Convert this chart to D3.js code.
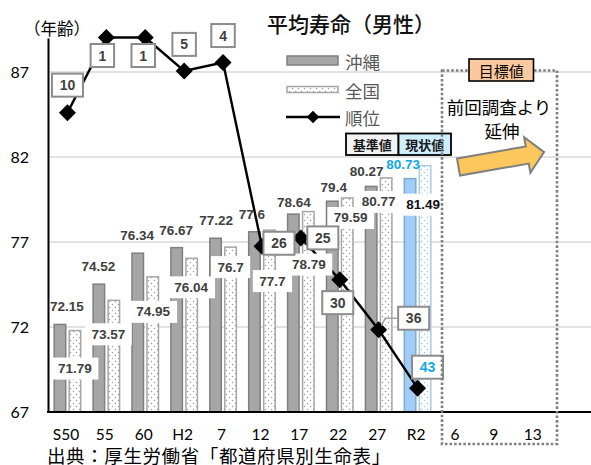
<!DOCTYPE html>
<html>
<head>
<meta charset="utf-8">
<script src="https://cdn.jsdelivr.net/npm/d3@7"></script>
<style>
  body { margin: 0; background: #fff; }
  svg { display: block; }
</style>
</head>
<body>
<svg id="chart" width="591" height="465"></svg>
<script>
// ---- data ----
const categories = ["S50", "55", "60", "H2", "7", "12", "17", "22", "27", "R2", "6", "9", "13"];
const okinawa  = [72.15, 74.52, 76.34, 76.67, 77.22, 77.6, 78.64, 79.4, 80.27, 80.73];
const national = [71.79, 73.57, 74.95, 76.04, 76.7, 77.7, 78.79, 79.59, 80.77, 81.49];
const rank     = [10, 1, 1, 5, 4, 26, 25, 30, 36, 43];
const yTicks   = [67, 72, 77, 82, 87];

// ---- label placement (dx from category centre, dy from bar top / marker) ----
const okLabelOffset   = [[-0.5,-17.5],[-8,-18],[-8,-18],[-8,-17.6],[-7,-18],[-10,-17],[-7,-12],[-6,-14],[-12,-15],[-14.5,-13.6]];
const natLabelOffset  = [[7.5,38],[2,34],[8,35],[7,29],[7.5,20],[10.5,51],[8,53],[11,20],[0,24],[5.5,39]];
const rankLabelOffset = [[0,-27.5],[-4,18],[-2,18],[0,-26.5],[0,-27],[17,-3],[22,0],[-2,23],[35,-11.5],[10,-21]];

const W = 591, H = 465;
const svg = d3.select("#chart");
const CJK = "'Noto Sans CJK JP', 'Noto Sans', sans-serif";
const NUM = "'Liberation Sans', Arial, sans-serif";
const TICK = "Lato, 'Liberation Sans', sans-serif";

const x = d3.scaleBand().domain(categories).range([48, 48 + 13 * 38.9]);
const y = d3.scaleLinear().domain([67, 89]).range([412, 38]);
const yRank = d3.scaleLinear().domain([0, 46]).range([29.15, 413.25]);
const cx = i => x(categories[i]) + x.bandwidth() / 2;
const baseY = y(67);

// ---- patterns ----
const defs = svg.append("defs");
function dotPattern(id, color) {
  const p = defs.append("pattern").attr("id", id).attr("patternUnits", "userSpaceOnUse")
    .attr("width", 6).attr("height", 6);
  p.append("rect").attr("width", 6).attr("height", 6).attr("fill", "#fff");
  p.append("circle").attr("cx", 1.5).attr("cy", 1.5).attr("r", 0.75).attr("fill", color);
  p.append("circle").attr("cx", 4.5).attr("cy", 4.5).attr("r", 0.75).attr("fill", color);
}
dotPattern("dotsGray", "#9a9a9a");
dotPattern("dotsBlue", "#8fc3f0");

// ---- gridlines ----
svg.append("g").selectAll("line").data(yTicks.filter(t => t !== 67)).join("line")
  .attr("x1", 48).attr("x2", W).attr("y1", d => y(d)).attr("y2", d => y(d))
  .attr("stroke", "#d9d9d9").attr("stroke-width", 1.5);

// ---- bars ----
const last = okinawa.length - 1;
svg.append("g").selectAll("rect").data(okinawa).join("rect")
  .attr("x", (d, i) => cx(i) - 13.25).attr("width", 11.5)
  .attr("y", d => y(d)).attr("height", d => baseY - y(d))
  .attr("fill", (d, i) => i === last ? "#9fcdf8" : "#a6a6a6")
  .attr("stroke", (d, i) => i === last ? "#86a8c8" : "#7f7f7f")
  .attr("stroke-width", 1.5);

svg.append("g").selectAll("rect").data(national).join("rect")
  .attr("x", (d, i) => cx(i) + 1.75).attr("width", 11.5)
  .attr("y", d => y(d)).attr("height", d => baseY - y(d))
  .attr("fill", (d, i) => i === last ? "url(#dotsBlue)" : "url(#dotsGray)")
  .attr("stroke", (d, i) => i === last ? "#a9cbe8" : "#a6a6a6")
  .attr("stroke-width", 1.5);

// ---- Okinawa value labels ----
svg.append("g").selectAll("text").data(okinawa).join("text")
  .attr("x", (d, i) => cx(i) + okLabelOffset[i][0])
  .attr("y", (d, i) => y(d) + okLabelOffset[i][1])
  .attr("text-anchor", "middle").attr("dominant-baseline", "central")
  .attr("font-family", NUM).attr("font-weight", "bold").attr("font-size", 13.5)
  .attr("fill", (d, i) => i === last ? "#10a8e8" : "#404040")
  .text(d => d);

// ---- axes ----
const yAxis = svg.append("g").attr("transform", "translate(48,0)")
  .call(d3.axisLeft(y).tickValues(yTicks).tickSize(0).tickPadding(19));
yAxis.select(".domain").attr("stroke", "#000").attr("stroke-width", 2);
yAxis.selectAll("text").attr("font-family", TICK).attr("font-size", 16).attr("fill", "#000");

const xAxis = svg.append("g").attr("transform", `translate(0,${baseY})`)
  .call(d3.axisBottom(x).tickSize(0));
xAxis.select(".domain").remove();
xAxis.selectAll("text").attr("y", 23).attr("dy", "0.35em").attr("dx", -1.5)
  .attr("font-family", TICK).attr("font-size", 15.5).attr("fill", "#000");
svg.append("line").attr("x1", 47).attr("x2", W).attr("y1", baseY).attr("y2", baseY)
  .attr("stroke", "#000").attr("stroke-width", 2);

// ---- ranking line ----
const line = d3.line().x((d, i) => cx(i)).y(d => yRank(d));
svg.append("path").datum(rank).attr("d", line)
  .attr("fill", "none").attr("stroke", "#000").attr("stroke-width", 2.4);
const diamond = d3.symbol().type(d3.symbolSquare).size(144);
svg.append("g").selectAll("path").data(rank).join("path")
  .attr("d", diamond)
  .attr("transform", (d, i) => `translate(${cx(i)},${yRank(d)}) rotate(45)`)
  .attr("fill", "#000");

// ---- national value labels (white background) ----
const natG = svg.append("g");
national.forEach((d, i) => {
  const g = natG.append("g");
  const t = g.append("text")
    .attr("x", cx(i) + natLabelOffset[i][0])
    .attr("y", y(d) + natLabelOffset[i][1])
    .attr("text-anchor", "middle").attr("dominant-baseline", "central")
    .attr("font-family", NUM).attr("font-weight", "bold").attr("font-size", 13.5)
    .attr("fill", i === last ? "#111" : "#404040")
    .text(d);
  const bb = t.node().getBBox();
  g.insert("rect", "text")
    .attr("x", bb.x - 6.5).attr("y", bb.y + bb.height / 2 - 11)
    .attr("width", bb.width + 13).attr("height", 22).attr("fill", "#fff");
});

// ---- leader line for rank 36 ----
{
  const i = 8;
  const bx = cx(i) + rankLabelOffset[i][0] - 16.5;
  const by = yRank(rank[i]) + rankLabelOffset[i][1];
  svg.append("polyline")
    .attr("points", [[bx, by], [bx - 12, by], [cx(i) + 3, yRank(rank[i]) - 4]].map(p => p.join(",")).join(" "))
    .attr("fill", "none").attr("stroke", "#a6a6a6").attr("stroke-width", 1.5);
}

// ---- rank labels ----
const rankG = svg.append("g");
rank.forEach((d, i) => {
  const w = d >= 10 ? 31 : 23.5;
  const lx = cx(i) + rankLabelOffset[i][0];
  const ly = yRank(d) + rankLabelOffset[i][1];
  rankG.append("rect").attr("x", lx - w / 2).attr("y", ly - 11.5)
    .attr("width", w).attr("height", 23)
    .attr("fill", "#fff").attr("stroke", "#8c8c8c").attr("stroke-width", 2);
  rankG.append("text").attr("x", lx).attr("y", ly)
    .attr("text-anchor", "middle").attr("dominant-baseline", "central")
    .attr("font-family", NUM).attr("font-weight", "bold").attr("font-size", 14)
    .attr("fill", i === last ? "#10a8e8" : "#404040")
    .text(d);
});

// ---- legend ----
const leg = svg.append("g");
leg.append("rect").attr("x", 287).attr("y", 56).attr("width", 51).attr("height", 9)
  .attr("fill", "#a6a6a6").attr("stroke", "#7f7f7f").attr("stroke-width", 1.5);
leg.append("rect").attr("x", 287).attr("y", 86.5).attr("width", 51).attr("height", 6)
  .attr("fill", "url(#dotsGray)").attr("stroke", "#a6a6a6").attr("stroke-width", 1.5);
leg.append("line").attr("x1", 286).attr("x2", 340).attr("y1", 117).attr("y2", 117)
  .attr("stroke", "#000").attr("stroke-width", 2.4);
leg.append("path").attr("d", d3.symbol().type(d3.symbolSquare).size(80))
  .attr("transform", "translate(313,117) rotate(45)").attr("fill", "#000");
leg.selectAll("text.lg").data([["沖縄", 61], ["全国", 90], ["順位", 117.5]]).join("text")
  .attr("x", 345).attr("y", d => d[1]).attr("dominant-baseline", "central")
  .attr("font-family", CJK).attr("font-size", 17.5).attr("fill", "#595959")
  .text(d => d[0]);

// ---- baseline / current value tags ----
const tags = [["基準値", 346, "#f2f2f2"], ["現状値", 398.5, "#cdeefc"]];
tags.forEach(([txt, tx, fill]) => {
  svg.append("rect").attr("x", tx).attr("y", 133.5).attr("width", 52.5).attr("height", 21.5)
    .attr("fill", fill).attr("stroke", "#000").attr("stroke-width", 1.8);
  svg.append("text").attr("x", tx + 26.25).attr("y", 144.5)
    .attr("text-anchor", "middle").attr("dominant-baseline", "central")
    .attr("font-family", CJK).attr("font-size", 13).attr("font-weight", "bold").attr("fill", "#1a1a1a")
    .text(txt);
});

// ---- target zone ----
svg.append("rect").attr("x", 442).attr("y", 70.5).attr("width", 115).attr("height", 373.5)
  .attr("fill", "none").attr("stroke", "#808080").attr("stroke-width", 2.6)
  .attr("stroke-dasharray", "2.6,2");
svg.append("rect").attr("x", 469).attr("y", 59).attr("width", 64.5).attr("height", 22)
  .attr("fill", "#fbc99e").attr("stroke", "#000").attr("stroke-width", 1.6);
svg.append("text").attr("x", 501.2).attr("y", 70.5)
  .attr("text-anchor", "middle").attr("dominant-baseline", "central")
  .attr("font-family", CJK).attr("font-size", 15).attr("fill", "#000").text("目標値");
svg.append("text").attr("x", 499).attr("y", 106)
  .attr("text-anchor", "middle").attr("dominant-baseline", "central")
  .attr("font-family", CJK).attr("font-size", 17.5).attr("fill", "#000").text("前回調査より");
svg.append("text").attr("x", 502).attr("y", 130)
  .attr("text-anchor", "middle").attr("dominant-baseline", "central")
  .attr("font-family", CJK).attr("font-size", 17.5).attr("fill", "#000").text("延伸");

// block arrow pointing toward the target zone
{
  const L = 86.8, hl = 17, hw = 18, sw = 8.7;
  const pts = [[0, -sw], [L - hl, -sw], [L - hl, -hw], [L, 0], [L - hl, hw], [L - hl, sw], [0, sw]];
  svg.append("path").attr("d", d3.line()(pts) + "Z")
    .attr("transform", "translate(458.5,167) rotate(-9.9)")
    .attr("fill", "#fcc75c").attr("stroke", "#7f7f7f").attr("stroke-width", 2)
    .attr("stroke-linejoin", "miter");
}

// ---- titles ----
svg.append("text").attr("x", 267).attr("y", 22.5).attr("dominant-baseline", "central")
  .attr("font-family", CJK).attr("font-size", 21).attr("font-weight", 500).attr("fill", "#111")
  .text("平均寿命（男性）");
svg.append("text").attr("x", 57).attr("y", 27.5).attr("text-anchor", "middle").attr("dominant-baseline", "central")
  .attr("font-family", CJK).attr("font-size", 16.5).attr("fill", "#000")
  .text("（年齢）");
svg.append("text").attr("x", 47).attr("y", 454.5).attr("dominant-baseline", "central")
  .attr("font-family", CJK).attr("font-size", 18.5).attr("letter-spacing", 0.6).attr("fill", "#000")
  .text("出典：厚生労働省「都道府県別生命表」");
</script>
</body>
</html>
